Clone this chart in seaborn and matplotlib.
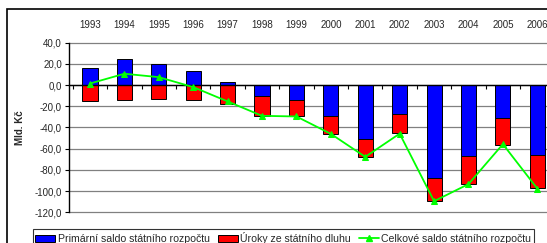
import numpy as np
import pandas as pd
import matplotlib
matplotlib.use("Agg")
import matplotlib.pyplot as plt
import seaborn as sns
from matplotlib.patches import Rectangle, Patch
from matplotlib.lines import Line2D
from matplotlib.ticker import FuncFormatter, MultipleLocator

# ---------------------------------------------------------------------------
# Data (Mld. Kč)
# ---------------------------------------------------------------------------
years = [str(y) for y in range(1993, 2007)]
primary = [16.6, 24.5, 20.1, 13.2, 2.5, -10.7, -13.6, -29.0, -50.9, -26.8, -87.7, -66.7, -30.8, -66.0]
interest = [15.1, 13.6, 12.9, 13.6, 17.9, 18.3, 16.0, 17.2, 17.0, 18.5, 21.7, 26.7, 25.5, 31.5]
total = [1.5, 10.7, 7.5, -1.9, -15.4, -29.0, -29.6, -46.0, -67.7, -45.8, -109.5, -93.4, -55.7, -97.6]

labels = ["Primární saldo státního rozpočtu", "Úroky ze státního dluhu", "Celkové saldo státního rozpočtu"]

BLUE, RED, GREEN = "#0000FF", "#FF0000", "#00FF00"

df = pd.DataFrame({"rok": years, "primarni": primary, "uroky": interest, "celkem": total})
# red segment hangs below the negative part of the primary balance
df["uroky_dno"] = np.minimum(df["primarni"], 0) - df["uroky"]

sns.set_theme(style="white")
plt.rcParams["font.family"] = ["Liberation Sans", "DejaVu Sans"]
plt.rcParams["font.size"] = 7

W, H = 547, 243
fig = plt.figure(figsize=(W / 100, H / 100), dpi=100)
ax = fig.add_axes([69 / W, 1 - 212.3 / H, 485.5 / W, 169.6 / H])

bar_kw = dict(width=0.44, saturation=1, edgecolor="black", linewidth=0.7, ax=ax, zorder=3)
sns.barplot(data=df, x="rok", y="uroky_dno", color=RED, **bar_kw)
sns.barplot(data=df, x="rok", y="primarni", color=BLUE, **bar_kw)
sns.lineplot(x=np.arange(len(years)), y=df["celkem"], color=GREEN, marker="^",
             markersize=5, markeredgecolor=GREEN, linewidth=1.3, ax=ax, zorder=5)

ax.set_xlim(-0.61, 13.5)
ax.set_ylim(-120, 40)
ax.yaxis.set_major_locator(MultipleLocator(20))
ax.yaxis.set_major_formatter(FuncFormatter(lambda v, p: f"{v:.1f}".replace(".", ",")))
ax.yaxis.grid(True, color="#808080", linewidth=0.9)
for gl in ax.get_ygridlines():
    gl.set_clip_on(False)
ax.set_axisbelow(True)

for s in ["top", "right"]:
    ax.spines[s].set_visible(False)
ax.spines["left"].set_color("black")
ax.spines["left"].set_linewidth(1)
ax.spines["bottom"].set_position(("data", 0))
ax.spines["bottom"].set_color("black")
ax.spines["bottom"].set_linewidth(1)
ax.spines["bottom"].set_zorder(4)

ax.set_xticks(np.arange(-0.5, 14, 1), minor=True)
ax.tick_params(axis="x", which="major", bottom=False, top=False, length=0,
               labelbottom=False, labeltop=True, pad=9, labelsize=7)
ax.tick_params(axis="x", which="minor", bottom=True, direction="out", length=3,
               width=0.8, color="black")
ax.tick_params(axis="y", left=True, direction="out", length=3, width=0.8,
               color="black", labelsize=7, pad=2)

ax.set_xlabel("")
ax.set_ylabel("Mld. Kč", fontweight="bold", fontsize=7)
ax.yaxis.set_label_coords(-0.0906, 0.5)

# outer chart frame
fig.patches.append(Rectangle((6.7 / W, -0.1), 1.2, 1.1 - 9.3 / H, transform=fig.transFigure,
                             fill=False, edgecolor="black", linewidth=1.2))

handles = [
    Patch(facecolor=BLUE, edgecolor="black", linewidth=0.7),
    Patch(facecolor=RED, edgecolor="black", linewidth=0.7),
    Line2D([], [], color=GREEN, marker="^", markersize=4, markeredgecolor=GREEN, linewidth=1.3),
]
leg = fig.legend(handles, labels, loc="upper left", bbox_to_anchor=(32.7 / W, 1 - 229.3 / H),
                 ncol=3, fontsize=7.6, frameon=True, fancybox=False, borderaxespad=0,
                 borderpad=0.25, handlelength=1.9, handleheight=0.6, handletextpad=0.2,
                 columnspacing=0.8)
leg.get_frame().set_edgecolor("black")
leg.get_frame().set_linewidth(0.8)

fig.savefig("out.png", dpi=100)
